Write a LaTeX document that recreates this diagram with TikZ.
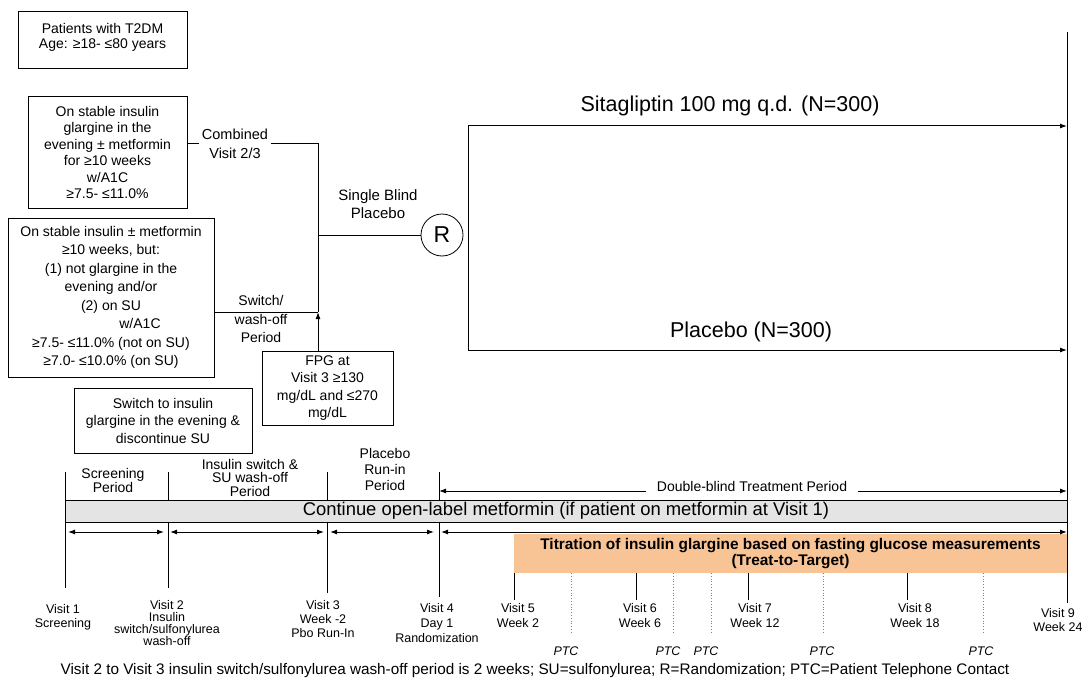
\documentclass[tikz,border=0pt]{standalone}
\usepackage{fontspec}
\setmainfont{Liberation Sans}
\usetikzlibrary{arrows.meta,calc}
\definecolor{bandgray}{HTML}{E4E4E4}
\definecolor{titr}{HTML}{F9C495}
\newcommand{\fs}[2]{\fontsize{#1}{#2}\selectfont}
\begin{document}
\begin{tikzpicture}[x=1pt,y=-1pt,
  line width=1pt,
  box/.style={draw, line width=1pt, align=center, inner sep=0pt, font=\fs{14}{17}},
  lbl/.style={align=center, inner sep=0pt, font=\fs{14}{16}},
  vlbl/.style={align=center, inner sep=0pt, font=\fs{12.5}{14}},
  ptc/.style={inner sep=0pt, font=\fs{12.5}{14}\itshape},
  arr/.style={-{Latex[length=7pt,width=5pt]}},
  darr/.style={{Latex[length=7pt,width=5pt]}-{Latex[length=7pt,width=5pt]}},
  dotln/.style={dotted, line width=0.8pt, gray},
]
\useasboundingbox (0,0) rectangle (1086,679);

% ---- boxes
\node[box, minimum width=169pt, minimum height=57pt, font=\fs{14}{15}] (pat) at (102.5,40.5)
  {Patients with T2DM\\Age: ≥18- ≤80 years\rule[-9pt]{0pt}{9pt}};
\node[box, minimum width=159pt, minimum height=111pt, font=\fs{14}{16.4}] (stab) at (107.5,152.5)
  {On stable insulin\\glargine in the\\evening ± metformin\\for ≥10 weeks\\w/A1C\\≥7.5- ≤11.0\%};
\node[box, minimum width=206pt, minimum height=159pt, font=\fs{14}{18.5}] (other) at (111,297.5)
  {On stable insulin ± metformin\\≥10 weeks, but:\\(1) not glargine in the\\evening and/or\hspace*{16pt}\\(2) on SU\hspace*{78pt}\\\hspace*{58pt}w/A1C\\≥7.5- ≤11.0\% (not on SU)\\≥7.0- ≤10.0\% (on SU)};
\node[box, minimum width=178pt, minimum height=65pt, font=\fs{14}{17.5}] (swb) at (163,420.5)
  {Switch to insulin\\glargine in the evening \&\\discontinue SU};
\node[box, minimum width=131pt, minimum height=74pt, font=\fs{14}{17.5}] (fpg) at (327.5,388)
  {FPG at\\Visit 3 ≥130\\mg/dL and ≤270\\mg/dL};

% ---- connectors to R
\coordinate (c1) at (318,143.5);
\coordinate (j) at (318,312);
\coordinate (sb) at (318,235);
\node[lbl, font=\fs{14.5}{19}, inner xsep=2pt] (comb) at (235,143.5) {Combined\\Visit 2/3};
\draw (stab.east |- c1) -- (comb.west);
\draw (comb.east) -- (c1) -- (j);
\draw (other.east |- j) -- (j);
\node[lbl, font=\fs{14}{18.5}] (swl) at (261,319) {Switch/\\wash-off\\Period};
\draw[arr] (fpg.north -| j) -- (j);
\node[lbl, font=\fs{15}{18}] (sbp) at (378,204) {Single Blind\\Placebo};
\node[draw, circle, minimum size=42pt, inner sep=0pt, line width=0.8pt, font=\fs{23}{23}] (R) at (442,235) {R};
\draw (sb) -- (R.west);

% ---- arms
\coordinate (at) at (468,126);
\coordinate (ab) at (468,350);
\coordinate (rt) at (1067,32);
\coordinate (rb) at (1067,603);
\draw (rt) -- (rb);
\draw (at) -- (ab);
\draw[arr] (at) -- (at -| rt);
\draw[arr] (ab) -- (ab -| rt);
\node[font=\fs{21.5}{24}, inner sep=0pt] (sita) at (730,106) {Sitagliptin 100 mg q.d. (N=300)};
\node[font=\fs{21.5}{24}, inner sep=0pt] (plac) at (751,332) {Placebo (N=300)};

% ---- timeline ticks
\draw (65,472) -- (65,588);
\draw (168,472) -- (168,588);
\draw (327,472) -- (327,593);
\draw (439,472) -- (439,597);

\node[lbl, font=\fs{14}{14}] (scr) at (113,480) {Screening\\Period};
\node[lbl, font=\fs{14}{13.5}] (isw) at (250,477.5) {Insulin switch \&\\SU wash-off\\Period};
\node[lbl, font=\fs{14}{16}] (prp) at (385,469) {Placebo\\Run-in\\Period};

\coordinate (dl) at (439,491);
\node[lbl, inner xsep=10pt] (dbt) at (752,486) {Double-blind Treatment Period};
\draw[arr] (dbt.west |- dl) -- (dl);
\draw[arr] (dbt.east |- dl) -- (dl -| rt);

\node[draw, fill=bandgray, minimum width=1002pt, minimum height=22pt, inner sep=0pt, font=\fs{18.4}{20}] (band) at (566,511)
  {Continue open-label metformin (if patient on metformin at Visit 1)};

\node[fill=titr, minimum width=553pt, minimum height=39pt, inner sep=0pt, align=center, font=\fs{15.4}{12.5}\bfseries] (tit) at (790.5,553.5)
  {Titration of insulin glargine based on fasting glucose measurements\\(Treat-to-Target)};

\coordinate (a1) at (65,532);
\coordinate (a2) at (168,532);
\coordinate (a3) at (327,532);
\coordinate (a4) at (439,532);
\coordinate (a5) at (1067,532);
\draw[darr, shorten <=3pt, shorten >=4pt] (a1) -- (a2);
\draw[darr, shorten <=2pt, shorten >=3pt] (a2) -- (a3);
\draw[darr, shorten <=3pt, shorten >=5pt] (a3) -- (a4);
\draw[darr, shorten <=2pt] (a4) -- (a5);

% ---- visit ticks below
\draw (514,573) -- (514,600);
\draw (636,573) -- (636,600);
\draw (748,573) -- (748,600);
\draw (907,573) -- (907,600);
\draw[dotln] (571,573) -- (571,633);
\draw[dotln] (673,573) -- (673,633);
\draw[dotln] (711,573) -- (711,633);
\draw[dotln] (823,573) -- (823,633);
\draw[dotln] (983,573) -- (983,633);

\node[vlbl] (v1) at (63,617) {Visit 1\\Screening};
\node[vlbl, font=\fs{12.5}{12}] (v2) at (167,623) {Visit 2\\Insulin\\switch/sulfonylurea\\wash-off};
\node[vlbl] (v3) at (323,619) {Visit 3\\Week -2\\Pbo Run-In};
\node[vlbl, font=\fs{12.5}{15}] (v4) at (437,623) {Visit 4\\Day 1\\Randomization};
\node[vlbl, font=\fs{12.5}{15}] (v5) at (518,615.5) {Visit 5\\Week 2};
\node[vlbl, font=\fs{12.5}{15}] (v6) at (640,615.5) {Visit 6\\Week 6};
\node[vlbl, font=\fs{12.5}{15}] (v7) at (755,615.5) {Visit 7\\Week 12};
\node[vlbl, font=\fs{12.5}{15}] (v8) at (915,615.5) {Visit 8\\Week 18};
\node[vlbl] (v9) at (1058,620) {Visit 9\\Week 24};

\node[ptc] (p1) at (566,651) {PTC};
\node[ptc] (p2) at (668,651) {PTC};
\node[ptc] (p3) at (706,651) {PTC};
\node[ptc] (p4) at (822,651) {PTC};
\node[ptc] (p5) at (981,651) {PTC};

\node[inner sep=0pt, font=\fs{15.3}{16}] (cap) at (535,671)
  {Visit 2 to Visit 3 insulin switch/sulfonylurea wash-off period is 2 weeks; SU=sulfonylurea; R=Randomization; PTC=Patient Telephone Contact};
\end{tikzpicture}
\end{document}
